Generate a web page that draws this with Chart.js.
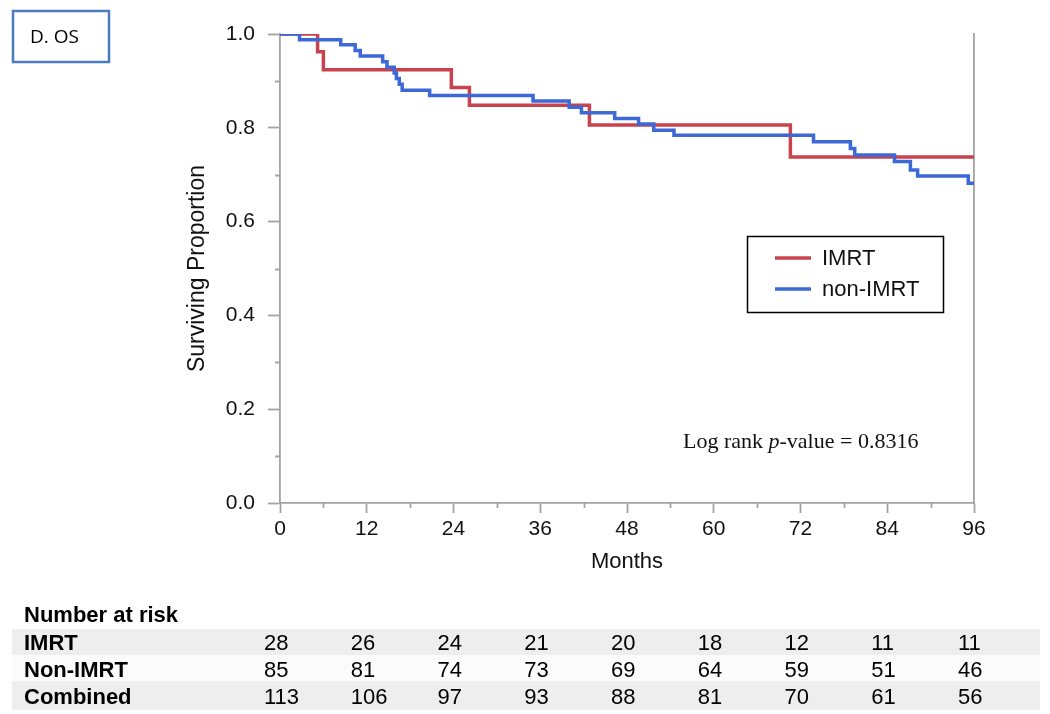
<!DOCTYPE html>
<html>
<head>
<meta charset="utf-8">
<title>D. OS</title>
<script src="https://cdn.jsdelivr.net/npm/chart.js@4.4.0/dist/chart.umd.min.js"></script>
<style>
  html, body { margin: 0; padding: 0; background: #fff; }
  #wrap { position: relative; width: 1050px; height: 714px; }
</style>
</head>
<body>
<div id="wrap"><canvas id="km" width="1050" height="714"></canvas></div>
<script>
// ── Kaplan-Meier steps (month of drop, survival after drop) ──
const imrtMonths = [0, 5.2, 6.0, 23.7, 26.2, 42.8, 70.6, 96];
const imrtSurv   = [1.0, 0.962, 0.924, 0.886, 0.848, 0.806, 0.738, 0.738];

const nonImrtMonths = [0, 2.7, 8.4, 10.4, 11.1, 14.2, 14.8, 15.8, 16.1, 16.5, 16.9, 20.7,
                       35.0, 40.0, 41.7, 46.3, 49.6, 51.7, 54.5, 73.8, 78.9, 79.5,
                       85.0, 87.2, 88.2, 95.2, 96];
const nonImrtSurv   = [1.0, 0.988, 0.977, 0.965, 0.953, 0.941, 0.929, 0.917, 0.905, 0.893, 0.880, 0.869,
                       0.857, 0.844, 0.832, 0.820, 0.808, 0.795, 0.784, 0.770, 0.756, 0.742,
                       0.728, 0.710, 0.697, 0.682, 0.682];

// ── Number at risk table ──
const riskMonths   = [0, 12, 24, 36, 48, 60, 72, 84, 96];
const riskLabels   = ['IMRT', 'Non-IMRT', 'Combined'];
const riskIMRT     = [28, 26, 24, 21, 20, 18, 12, 11, 11];
const riskNonIMRT  = [85, 81, 74, 73, 69, 64, 59, 51, 46];
const riskCombined = [113, 106, 97, 93, 88, 81, 70, 61, 56];

const xMinorTicks = [6, 18, 30, 42, 54, 66, 78, 90];
const yMinorTicks = [0.1, 0.3, 0.5, 0.7, 0.9];

const pValueText = ['Log rank ', 'p', '-value = 0.8316'];
const panelLabel = 'D. OS';

const AXIS_GRAY = '#a3a3a3';
const SANS = '"Liberation Sans", Arial, Helvetica, sans-serif';

const toPoints = (xs, ys) => xs.map((m, i) => ({ x: m, y: ys[i] }));

// ── Extra drawing: minor ticks, legend box, p-value, risk table, panel label ──
const extrasPlugin = {
    id: 'extras',
    afterDraw(chart) {
        const { ctx, chartArea, scales: { x, y } } = chart;
        ctx.save();

        // minor ticks
        ctx.strokeStyle = AXIS_GRAY;
        ctx.lineWidth = 1.8;
        ctx.beginPath();
        xMinorTicks.forEach(m => {
            const px = Math.round(x.getPixelForValue(m)) + 0.5;
            ctx.moveTo(px, chartArea.bottom);
            ctx.lineTo(px, chartArea.bottom + 5);
        });
        yMinorTicks.forEach(v => {
            const py = Math.round(y.getPixelForValue(v)) + 0.5;
            ctx.moveTo(chartArea.left - 5, py);
            ctx.lineTo(chartArea.left, py);
        });
        ctx.stroke();

        // legend box
        ctx.strokeStyle = '#000';
        ctx.lineWidth = 1.5;
        ctx.strokeRect(747.5, 236.5, 196, 76);
        const order = [...chart.data.datasets].sort((a, b) => a.legendIndex - b.legendIndex);
        order.forEach((ds, i) => {
            const ly = 258 + i * 31;
            ctx.strokeStyle = ds.borderColor;
            ctx.lineWidth = 3.5;
            ctx.beginPath();
            ctx.moveTo(775, ly);
            ctx.lineTo(811, ly);
            ctx.stroke();
            ctx.fillStyle = '#111';
            ctx.font = '22px ' + SANS;
            ctx.textBaseline = 'middle';
            ctx.textAlign = 'left';
            ctx.fillText(ds.label, 822, ly + 1);
        });

        // log-rank annotation
        ctx.textBaseline = 'alphabetic';
        let tx = 683;
        pValueText.forEach((part, i) => {
            ctx.font = (i === 1 ? 'italic ' : '') + '22px "Liberation Serif", "Times New Roman", serif';
            ctx.fillStyle = '#111';
            ctx.fillText(part, tx, 448);
            tx += ctx.measureText(part).width;
        });

        // number at risk table
        const rows = [riskIMRT, riskNonIMRT, riskCombined];
        const bandTop = [629, 655, 681];
        const bandH = [26, 26, 29];
        const bandFill = ['#eeeeee', '#fbfbfb', '#eeeeee'];
        const baselines = [650, 677, 704];
        rows.forEach((row, r) => {
            ctx.fillStyle = bandFill[r];
            ctx.fillRect(12, bandTop[r], 1028, bandH[r]);
        });
        ctx.fillStyle = '#000';
        ctx.font = 'bold 22px ' + SANS;
        ctx.fillText('Number at risk', 24, 622);
        rows.forEach((row, r) => {
            ctx.font = 'bold 22px ' + SANS;
            ctx.fillStyle = '#000';
            ctx.fillText(riskLabels[r], 24, baselines[r]);
            ctx.font = '22px ' + SANS;
            row.forEach((n, c) => {
                const cx = x.getPixelForValue(riskMonths[c]) - 16;
                ctx.fillText(String(n), cx, baselines[r]);
            });
        });

        // panel label
        ctx.strokeStyle = '#4a7cc0';
        ctx.lineWidth = 2.5;
        ctx.strokeRect(13, 11, 96, 51);
        ctx.fillStyle = '#000';
        ctx.font = '19px "Open Sans", "Noto Sans", sans-serif';
        ctx.fillText(panelLabel, 30, 43);

        ctx.restore();
    }
};

Chart.defaults.font.family = SANS;
Chart.defaults.color = '#111';

new Chart(document.getElementById('km'), {
    type: 'line',
    data: {
        datasets: [
            {
                label: 'IMRT',
                legendIndex: 0,
                order: 2,
                data: toPoints(imrtMonths, imrtSurv),
                borderColor: '#c9434d',
                borderWidth: 3.5,
                stepped: 'before',
                pointRadius: 0,
                fill: false,
            },
            {
                label: 'non-IMRT',
                legendIndex: 1,
                order: 1,
                data: toPoints(nonImrtMonths, nonImrtSurv),
                borderColor: '#3c69d6',
                borderWidth: 3.5,
                stepped: 'before',
                pointRadius: 0,
                fill: false,
            },
        ],
    },
    options: {
        responsive: false,
        animation: false,
        events: [],
        layout: { padding: { left: 0, top: 34, right: 76, bottom: 0 } },
        plugins: {
            legend: { display: false },
            tooltip: { enabled: false },
        },
        scales: {
            x: {
                type: 'linear',
                min: 0,
                max: 96,
                afterFit: s => { s.height = 211; },
                ticks: {
                    stepSize: 12,
                    padding: 4,
                    font: { size: 21 },
                    color: '#111',
                },
                grid: {
                    drawOnChartArea: false,
                    tickLength: 10,
                    tickColor: AXIS_GRAY,
                    tickWidth: 1.8,
                },
                border: { color: AXIS_GRAY, width: 1.8 },
                title: {
                    display: true,
                    text: 'Months',
                    font: { size: 22 },
                    color: '#111',
                    padding: { top: 0, bottom: 139 },
                },
            },
            y: {
                min: 0,
                max: 1,
                afterFit: s => { s.width = 280; },
                ticks: {
                    stepSize: 0.2,
                    padding: 13,
                    font: { size: 21 },
                    color: '#111',
                    callback: v => v.toFixed(1),
                },
                grid: {
                    drawOnChartArea: false,
                    tickLength: 12,
                    tickColor: AXIS_GRAY,
                    tickWidth: 1.8,
                },
                border: { color: AXIS_GRAY, width: 1.8 },
                title: {
                    display: true,
                    text: 'Surviving Proportion',
                    font: { size: 23 },
                    color: '#111',
                    padding: { top: 184, bottom: 0 },
                },
            },
            y2: {
                position: 'right',
                min: 0,
                max: 1,
                afterFit: s => { s.width = 0; },
                ticks: { display: false },
                grid: { display: false, drawTicks: false },
                border: { color: AXIS_GRAY, width: 1.8 },
            },
        },
    },
    plugins: [extrasPlugin],
});
</script>
</body>
</html>
